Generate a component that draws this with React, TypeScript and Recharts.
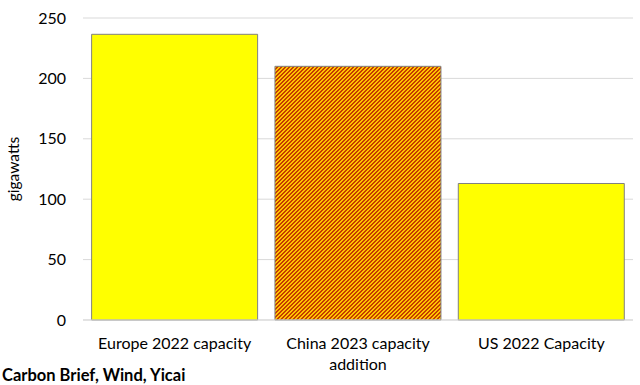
import React from 'react';
import { BarChart, Bar, XAxis, YAxis, CartesianGrid, Cell, Text } from 'recharts';

const categories = ['Europe 2022 capacity', 'China 2023 capacity addition', 'US 2022 Capacity'];
const capacityGw = [236.5, 210, 113];
const fills = ['#ffff00', 'url(#chinaHatch)', '#ffff00'];
const yTicks = [0, 50, 100, 150, 200, 250];

const data = categories.map((label, i) => ({ label, value: capacityGw[i] }));

const FONT = 'Lato, "Open Sans", sans-serif';

// dark pixels of a 4x4 "wide upward diagonal" tile
const hatchPixels = [
  [3, 0], [0, 0],
  [2, 1], [3, 1],
  [1, 2], [2, 2],
  [0, 3], [1, 3],
];

function CategoryTick(props: any) {
  const { x, y, payload } = props;
  return (
    <Text
      x={x}
      y={y}
      width={172}
      textAnchor="middle"
      verticalAnchor="start"
      lineHeight={21}
      fill="#000"
      style={{ fontSize: 16, fontFamily: FONT }}
    >
      {payload.value}
    </Text>
  );
}

export default function App() {
  return (
    <div style={{ position: 'absolute', left: 0, top: 0, width: 640, height: 385, background: '#fff' }}>
      <svg width={0} height={0} style={{ position: 'absolute' }}>
        <defs>
          <pattern id="chinaHatch" patternUnits="userSpaceOnUse" width={4} height={4}>
            <rect x={0} y={0} width={4} height={4} fill="#ffc400" shapeRendering="crispEdges" />
            {hatchPixels.map(([px, py]) => (
              <rect key={`${px}-${py}`} x={px} y={py} width={1} height={1} fill="#c43c00" shapeRendering="crispEdges" />
            ))}
          </pattern>
        </defs>
      </svg>
      <BarChart
        width={640}
        height={385}
        data={data}
        margin={{ top: 18, right: 7, bottom: 0, left: 0 }}
        barCategoryGap="4.7%"
      >
        <CartesianGrid vertical={false} stroke="#d9d9d9" />
        <XAxis
          dataKey="label"
          axisLine={{ stroke: '#d9d9d9' }}
          tickLine={false}
          tick={<CategoryTick />}
          tickMargin={12}
          height={65}
          interval={0}
        />
        <YAxis
          domain={[0, 250]}
          ticks={yTicks}
          axisLine={false}
          tickLine={false}
          tickMargin={11}
          width={83}
          tick={{ fill: '#000', fontSize: 16, fontFamily: FONT }}
          label={{
            value: 'gigawatts',
            angle: -90,
            position: 'insideLeft',
            offset: 13,
            style: { textAnchor: 'middle', fill: '#000', fontSize: 15.5, fontFamily: FONT },
          }}
        />
        <Bar dataKey="value" stroke="#808080" strokeWidth={1} isAnimationActive={false}>
          {data.map((d, i) => (
            <Cell key={d.label} fill={fills[i]} />
          ))}
        </Bar>
      </BarChart>
      <div
        style={{
          position: 'absolute',
          left: 2,
          top: 365,
          fontFamily: FONT,
          fontWeight: 'bold',
          fontSize: 16.5,
          color: '#000',
          whiteSpace: 'nowrap',
        }}
      >
        Carbon Brief, Wind, Yicai
      </div>
    </div>
  );
}
